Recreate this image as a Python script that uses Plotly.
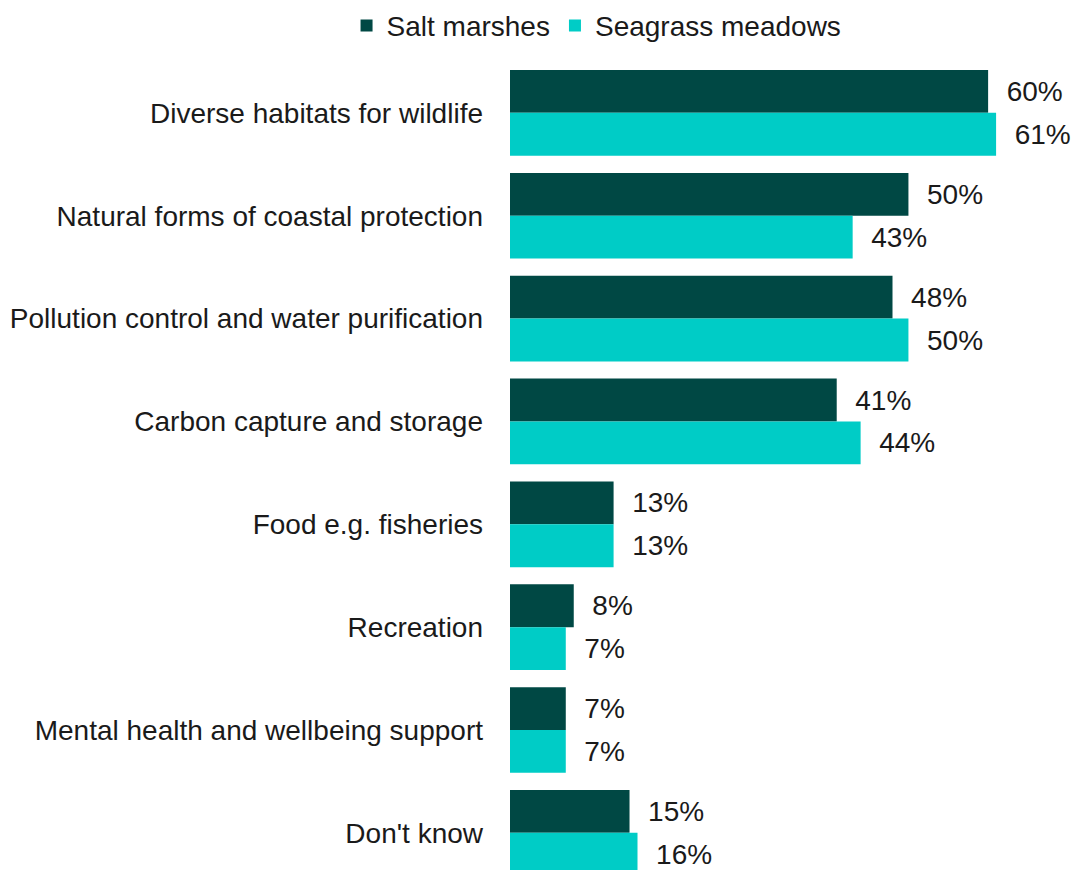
import plotly.graph_objects as go

categories = [
    "Diverse habitats for wildlife",
    "Natural forms of coastal protection",
    "Pollution control and water purification",
    "Carbon capture and storage",
    "Food e.g. fisheries",
    "Recreation",
    "Mental health and wellbeing support",
    "Don't know",
]
salt_marshes = [60, 50, 48, 41, 13, 8, 7, 15]
seagrass_meadows = [61, 43, 50, 44, 13, 7, 7, 16]

DARK = "#004844"
CYAN = "#00CCC6"
FONT = dict(family="Arial, 'Liberation Sans', sans-serif", size=28, color="#1a1a1a")

fig = go.Figure()
for name, vals, col in [("Salt marshes", salt_marshes, DARK),
                        ("Seagrass meadows", seagrass_meadows, CYAN)]:
    fig.add_trace(go.Bar(
        name=name,
        y=categories,
        x=vals,
        orientation="h",
        marker=dict(color=col, line=dict(width=0)),
        text=[f"  {v}%" for v in vals],
        textposition="outside",
        textfont=FONT,
        cliponaxis=False,
    ))

fig.update_layout(
    width=1071,
    height=870,
    margin=dict(l=510, r=0, t=60, b=0),
    barmode="group",
    bargap=0.167,
    bargroupgap=0,
    plot_bgcolor="white",
    paper_bgcolor="white",
    font=FONT,
    showlegend=True,
    legend=dict(
        orientation="h",
        x=0.557, xref="container", xanchor="center",
        y=0.999, yref="container", yanchor="top",
        font=FONT,
        itemwidth=30,
        traceorder="normal",
    ),
    xaxis=dict(range=[0, 70.4], visible=False, showgrid=False, zeroline=False),
    yaxis=dict(
        type="category",
        range=[7.361, -0.514],
        showgrid=False,
        showline=False,
        zeroline=False,
        ticks="",
        ticklabelstandoff=26,
        tickfont=FONT,
    ),
)

fig.write_html("out.html")
